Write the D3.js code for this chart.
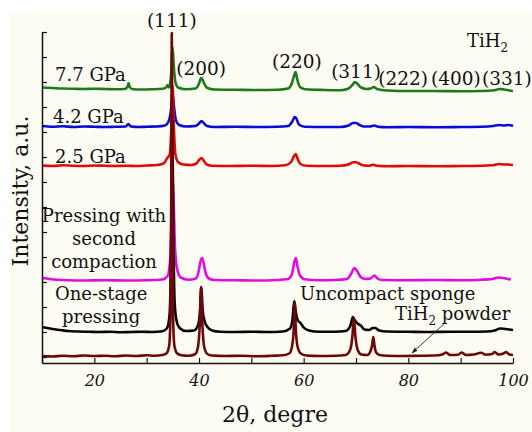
<!DOCTYPE html>
<html>
<head>
<meta charset="utf-8">
<script src="https://cdn.jsdelivr.net/npm/d3@7"></script>
<style>
  html, body { margin: 0; padding: 0; background: #ffffff; }
  svg { display: block; }
  text { font-family: "DejaVu Serif", serif; fill: #111; }
</style>
</head>
<body>
<svg id="chart" width="532" height="432"></svg>
<script>
// XRD patterns of TiH2 compacts, 2θ in degrees, intensity in a.u. above each pattern's own baseline
const sampleNames = ["7.7 GPa", "4.2 GPa", "2.5 GPa", "Pressing with second compaction", "One-stage pressing", "Uncompact sponge TiH2 powder"];
const sampleColors = ["#1c7a1c", "#0a0ad8", "#e00a0a", "#e40ae4", "#050505", "#6e0808"];
// vertical stacking offset of each pattern (a.u.)
const sampleOffsets = [10.68, 9.16, 7.6, 3.04, 0.96, 0];

const pattern77 = [[10,0.1],[12,0.08],[14,0.06],[16,0.05],[18,0.04],[20,0.05],[22,0.04],[24,0.03],[25.8,0.04],[26.3,0.12],[26.55,0.28],[26.8,0.1],[27.4,0.03],[29,0.02],[31,0.03],[33,0.05],[33.7,0.1],[34.0,0.2],[34.25,0.1],[34.5,0.25],[34.75,0.9],[34.95,1.72],[35.2,0.9],[35.5,0.3],[36,0.1],[37.5,0.03],[39.3,0.06],[40,0.25],[40.4,0.48],[40.6,0.44],[41,0.26],[41.6,0.08],[43,0.02],[47,0.01],[51,0.0],[55,0.01],[57,0.06],[57.8,0.3],[58.2,0.6],[58.45,0.72],[58.8,0.4],[59.3,0.12],[60.3,0.03],[64,0.0],[67,-0.01],[68.5,0.05],[69.3,0.2],[69.8,0.32],[70.3,0.24],[71,0.1],[72,0.04],[72.8,0.06],[73.4,0.12],[74,0.04],[76,-0.02],[80,-0.04],[85,-0.04],[90,-0.05],[94,-0.04],[96.5,-0.01],[97.4,0.04],[98.3,0.02],[99.3,-0.02],[100,-0.04]];

const pattern42 = [[10,0.08],[12,0.05],[14,0.07],[16,0.04],[18,0.06],[20,0.05],[22,0.04],[24,0.05],[26,0.06],[26.5,0.16],[27,0.06],[28.5,0.04],[30,0.05],[32,0.06],[33.5,0.1],[34.1,0.22],[34.5,0.5],[34.8,1.0],[35.0,1.3],[35.25,0.8],[35.6,0.3],[36.2,0.12],[37.5,0.06],[39.3,0.08],[40,0.18],[40.5,0.28],[40.9,0.2],[41.5,0.08],[43,0.04],[47,0.05],[51,0.04],[55,0.05],[57,0.08],[57.8,0.25],[58.3,0.44],[58.6,0.38],[59.1,0.14],[60.2,0.05],[64,0.04],[67,0.04],[68.6,0.1],[69.4,0.2],[70,0.2],[70.7,0.12],[71.5,0.06],[72.6,0.06],[73.5,0.1],[74.2,0.05],[76,0.03],[80,0.04],[85,0.03],[90,0.04],[94,0.05],[96.2,0.08],[97.4,0.12],[98.2,0.1],[99.2,0.12],[100,0.08]];

const pattern25 = [[10,0.06],[12,0.04],[14,0.07],[16,0.05],[18,0.04],[20,0.06],[22,0.05],[24,0.04],[26,0.05],[28,0.04],[30,0.06],[32,0.08],[33.3,0.15],[33.9,0.35],[34.4,0.5],[34.7,1.5],[34.95,3.28],[35.2,1.6],[35.5,0.5],[36,0.2],[37,0.1],[38.5,0.08],[39.5,0.14],[40.1,0.3],[40.5,0.36],[40.9,0.25],[41.5,0.1],[42.5,0.05],[46,0.04],[50,0.05],[54,0.04],[56.5,0.07],[57.6,0.2],[58.2,0.45],[58.5,0.52],[58.8,0.35],[59.4,0.12],[60.5,0.05],[64,0.04],[67,0.05],[68.5,0.1],[69.3,0.18],[69.9,0.2],[70.5,0.15],[71.3,0.07],[72.5,0.05],[73.3,0.09],[74,0.05],[76,0.03],[80,0.04],[85,0.03],[90,0.04],[94,0.05],[96,0.07],[97.3,0.12],[98.3,0.1],[99,0.1],[100,0.08]];

const patternTwoStage = [[10,0.12],[11.5,0.08],[13,0.05],[15,0.03],[18,0.02],[22,0.03],[26,0.02],[30,0.03],[33,0.06],[34,0.2],[34.6,1.2],[34.9,4.2],[35.15,3.2],[35.4,1.4],[35.8,0.5],[36.5,0.14],[38,0.05],[39.4,0.1],[39.9,0.35],[40.3,0.8],[40.6,0.92],[40.9,0.7],[41.3,0.3],[41.9,0.1],[43,0.04],[47,0.03],[51,0.02],[55,0.04],[57,0.08],[57.8,0.3],[58.2,0.75],[58.5,0.92],[58.8,0.6],[59.3,0.22],[60.2,0.07],[63,0.03],[66,0.04],[68.3,0.08],[69.1,0.3],[69.7,0.52],[70.2,0.4],[70.9,0.16],[71.8,0.08],[72.8,0.1],[73.5,0.22],[74.1,0.1],[75,0.04],[80,0.03],[85,0.04],[90,0.03],[94,0.05],[96,0.08],[97.3,0.14],[98.2,0.12],[99,0.08],[99.6,0.06]];

const patternOneStage = [[10,0.24],[11,0.2],[12,0.16],[13.5,0.12],[15,0.08],[17,0.06],[19,0.05],[21,0.04],[23,0.05],[25,0.03],[27,0.04],[29,0.05],[31,0.04],[33,0.07],[33.9,0.2],[34.4,0.8],[34.7,4],[34.9,8.5],[35.1,4],[35.35,1.2],[35.7,0.5],[36.3,0.2],[37.5,0.08],[39,0.1],[39.8,0.3],[40.2,0.9],[40.45,1.84],[40.7,0.9],[41.1,0.45],[41.7,0.22],[42.5,0.1],[44,0.05],[47,0.04],[50,0.05],[53,0.04],[56,0.06],[57.4,0.18],[57.9,0.6],[58.2,1.28],[58.45,0.9],[58.9,0.5],[59.4,0.4],[60,0.22],[61,0.1],[63,0.05],[66,0.05],[68,0.08],[68.9,0.28],[69.4,0.64],[69.8,0.5],[70.4,0.36],[70.9,0.3],[71.6,0.14],[72.5,0.12],[73.2,0.2],[73.7,0.2],[74.4,0.1],[76,0.06],[80,0.05],[84,0.04],[88,0.05],[92,0.05],[95,0.06],[96.5,0.1],[97.5,0.18],[98.5,0.16],[99.3,0.14],[100,0.12]];

const patternPowder = [[10,0.04],[12,0.02],[14,0.05],[16,0.03],[18,0.06],[20,0.04],[22,0.05],[24,0.03],[26,0.06],[28,0.04],[30,0.07],[31.5,0.05],[33,0.08],[33.8,0.15],[34.3,0.45],[34.55,1.6],[34.7,6.5],[34.8,12.96],[34.9,6.5],[35.05,1.6],[35.3,0.45],[35.8,0.15],[36.6,0.07],[38,0.05],[39.3,0.12],[39.8,0.4],[40.15,1.3],[40.4,2.8],[40.65,1.3],[41,0.4],[41.6,0.12],[42.5,0.06],[45,0.04],[48,0.05],[51,0.03],[54,0.05],[56,0.07],[57.3,0.15],[57.8,0.45],[58.1,1.1],[58.3,2.16],[58.5,1.1],[58.8,0.45],[59.4,0.15],[60.5,0.06],[63,0.04],[66,0.05],[68,0.08],[68.9,0.3],[69.3,0.8],[69.6,1.56],[69.9,0.8],[70.3,0.3],[71,0.1],[72.2,0.08],[72.8,0.25],[73.1,0.5],[73.3,0.8],[73.5,0.5],[73.8,0.2],[74.5,0.08],[76,0.05],[79,0.04],[82,0.05],[85,0.06],[86.5,0.1],[87.2,0.18],[88,0.08],[89.5,0.09],[90.2,0.18],[91,0.08],[92.5,0.1],[93.9,0.17],[94.8,0.09],[96,0.12],[96.5,0.2],[97.2,0.1],[98.2,0.14],[98.7,0.2],[99.3,0.1],[100,0.08]];

const patterns = [pattern77, pattern42, pattern25, patternTwoStage, patternOneStage, patternPowder];

// axis ticks
const xTicks = [10, 20, 30, 40, 50, 60, 70, 80, 90, 100];
const xTickLabels = ["", "20", "", "40", "", "60", "", "80", "", "100"];
const yTicks = [0, 1, 2, 3, 4, 5, 6, 7, 8, 9, 10, 11, 12, 13];

// reflection labels: [text, 2θ, intensity]
const hklLabels = [["(111)", 34.8, 13.2], ["(200)", 40.4, 11.28], ["(220)", 58.7, 11.56], ["(311)", 70.0, 11.16], ["(222)", 79.0, 10.88], ["(400)", 89.1, 10.88], ["(331)", 98.85, 10.88]];
// sample captions: [lines, 2θ, intensity of first baseline, anchor]
const captions = [
  [["7.7 GPa"], 12.5, 11.04, "start"],
  [["4.2 GPa"], 12.1, 9.36, "start"],
  [["2.5 GPa"], 12.5, 7.76, "start"],
  [["Pressing with", "second", "compaction"], 21.85, 5.4, "middle"],
  [["One-stage", "pressing"], 21.3, 2.28, "middle"],
  [["Uncompact  sponge"], 59.3, 2.28, "start"]
];
const powderArrow = [[87.0, 1.36], [80.7, 0.16]];

const svg = d3.select("#chart");
const W = 532, H = 432;

svg.append("rect").attr("x", 10).attr("y", 13).attr("width", W - 10).attr("height", H - 13).attr("fill", "#fdfcf3");

const x = d3.scaleLinear().domain([10, 100]).range([42, 513]);
const y = d3.scaleLinear().domain([-0.24, 13]).range([363, 32]);

// patterns, drawn bottom-most last so the powder peaks sit on top
const line = d3.line().x(d => x(d[0])).y(d => y(d[1])).curve(d3.curveMonotoneX);
patterns.forEach((p, i) => {
  const off = sampleOffsets[i];
  svg.append("path")
    .datum(p.map(d => [d[0], d[1] + off]))
    .attr("fill", "none")
    .attr("stroke", sampleColors[i])
    .attr("stroke-width", 2.6)
    .attr("stroke-linejoin", "round")
    .attr("d", line);
});

// axes with inward ticks
const xAxis = svg.append("g").attr("transform", `translate(0,${y(-0.24)})`)
  .call(d3.axisBottom(x).tickValues(xTicks).tickSize(-5).tickSizeOuter(0).tickPadding(12)
    .tickFormat((d, i) => xTickLabels[i]));
xAxis.select(".domain").attr("stroke", "#111").attr("stroke-width", 1.5);
xAxis.selectAll(".tick line").attr("stroke", "#111").attr("stroke-width", 1.2);
xAxis.selectAll(".tick text").attr("font-family", "DejaVu Serif").attr("font-style", "italic")
  .attr("font-size", 16).attr("fill", "#111");

const yAxis = svg.append("g").attr("transform", `translate(${x(10)},0)`)
  .call(d3.axisLeft(y).tickValues(yTicks).tickSize(-5).tickSizeOuter(0).tickFormat(""));
yAxis.select(".domain").attr("stroke", "#111").attr("stroke-width", 1.5);
yAxis.selectAll(".tick line").attr("stroke", "#111").attr("stroke-width", 1.2);

// reflection indices
svg.selectAll("text.hkl").data(hklLabels).enter().append("text")
  .attr("class", "hkl")
  .attr("x", d => x(d[1])).attr("y", d => y(d[2]))
  .attr("text-anchor", "middle").attr("font-size", 18.5)
  .text(d => d[0]);

// phase label
const phase = svg.append("text").attr("x", x(91.2)).attr("y", y(12.4)).attr("font-size", 18);
phase.append("tspan").text("TiH");
phase.append("tspan").attr("font-size", 12).attr("dy", 5).text("2");

// sample captions
captions.forEach(c => {
  const t = svg.append("text").attr("text-anchor", c[3]).attr("font-size", 18);
  c[0].forEach((s, k) => {
    t.append("tspan").attr("x", x(c[1])).attr("y", y(c[2] - 0.92 * k)).text(s);
  });
});
const powder = svg.append("text").attr("x", x(77.45)).attr("y", y(1.48)).attr("font-size", 18);
powder.append("tspan").text("TiH");
powder.append("tspan").attr("font-size", 12).attr("dy", 5).text("2");
powder.append("tspan").attr("dy", -5).text(" powder");

// pointer to the powder pattern
svg.append("defs").append("marker")
  .attr("id", "head").attr("viewBox", "0 0 10 10").attr("refX", 9).attr("refY", 5)
  .attr("markerWidth", 7).attr("markerHeight", 7).attr("orient", "auto")
  .append("path").attr("d", "M0,1.5L10,5L0,8.5Z").attr("fill", "#222");
svg.append("line")
  .attr("x1", x(powderArrow[0][0])).attr("y1", y(powderArrow[0][1]))
  .attr("x2", x(powderArrow[1][0])).attr("y2", y(powderArrow[1][1]))
  .attr("stroke", "#222").attr("stroke-width", 0.9).attr("marker-end", "url(#head)");

// axis titles
svg.append("text").attr("x", 275).attr("y", 422).attr("text-anchor", "middle").attr("font-size", 22)
  .text("2θ, degre");
svg.append("text").attr("transform", "translate(28,191) rotate(-90)").attr("text-anchor", "middle")
  .attr("font-size", 22).text("Intensity, a.u.");
</script>
</body>
</html>
